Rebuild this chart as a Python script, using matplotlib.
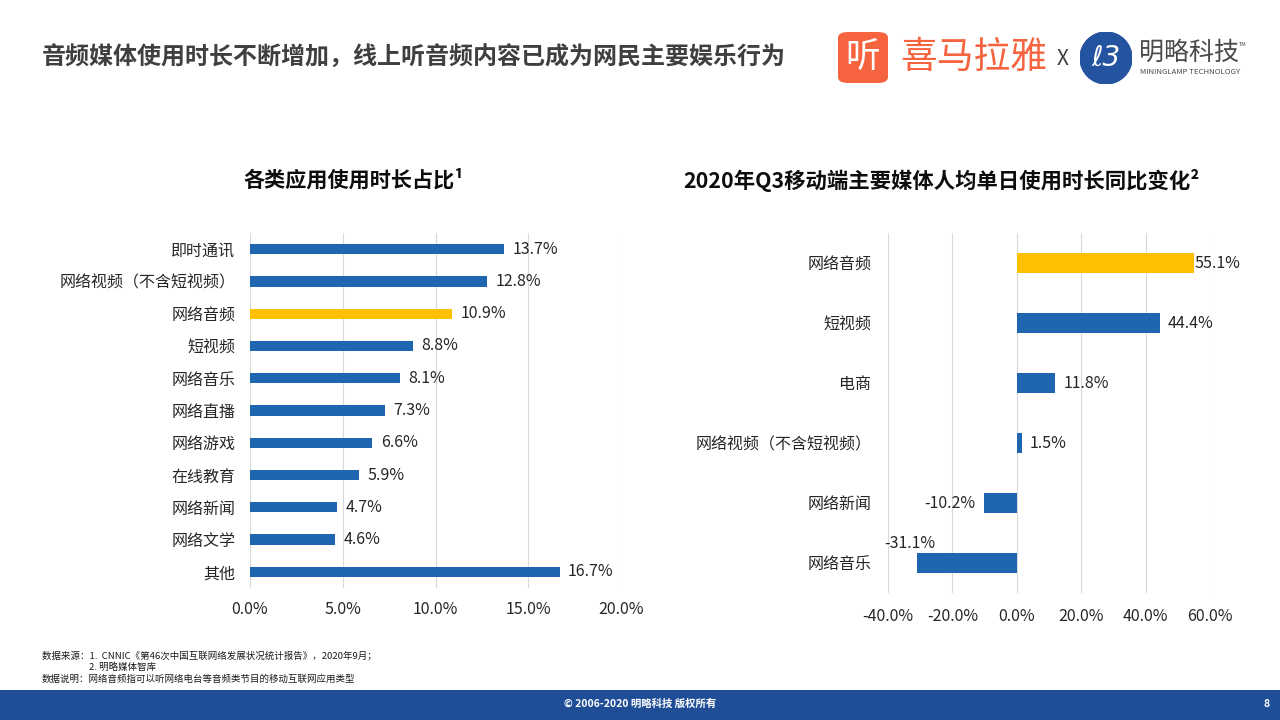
import matplotlib
matplotlib.use("Agg")
import matplotlib.pyplot as plt
from matplotlib.patches import FancyBboxPatch, Circle, Rectangle

plt.rcParams['font.family'] = ['Noto Sans CJK SC', 'DejaVu Sans']

# ---------------- data ----------------
left_categories = ["即时通讯", "网络视频（不含短视频）", "网络音频", "短视频", "网络音乐",
                   "网络直播", "网络游戏", "在线教育", "网络新闻", "网络文学", "其他"]
left_values = [13.7, 12.8, 10.9, 8.8, 8.1, 7.3, 6.6, 5.9, 4.7, 4.6, 16.7]
left_ticks = [0, 5, 10, 15, 20]

right_categories = ["网络音频", "短视频", "电商", "网络视频（不含短视频）", "网络新闻", "网络音乐"]
right_values = [55.1, 44.4, 11.8, 1.5, -10.2, -31.1]
right_ticks = [-40, -20, 0, 20, 40, 60]

highlight = "网络音频"
BLUE = "#1F66B0"
YELLOW = "#FFC000"
GRID = "#D9D9D9"
TXT = "#262626"

W, H = 1280, 720
fig = plt.figure(figsize=(12.8, 7.2), dpi=100)

def fx(px):
    return px / W

def fy(py):
    return 1 - py / H

# ---------------- left chart ----------------
axL = fig.add_axes([fx(250), fy(588), fx(621) - fx(250), fy(233) - fy(588)])
yL = list(range(len(left_categories)))
colsL = [YELLOW if c == highlight else BLUE for c in left_categories]
axL.barh(yL, left_values, height=0.32, color=colsL, zorder=3)
axL.set_ylim(len(left_categories) - 0.5, -0.5)
axL.set_xlim(left_ticks[0], left_ticks[-1])
axL.set_xticks(left_ticks)
axL.set_xticklabels([f"{t:.1f}%" for t in left_ticks], fontsize=11.5, color=TXT)
axL.set_yticks(yL)
axL.set_yticklabels(left_categories, fontsize=11.5, color=TXT)
axL.tick_params(axis='x', length=0, pad=9)
axL.tick_params(axis='y', length=0, pad=10.5)
axL.grid(axis='x', color=GRID, linewidth=0.8, zorder=0)
for s in axL.spines.values():
    s.set_visible(False)
for y, v in zip(yL, left_values):
    axL.annotate(f"{v:.1f}%", (v, y), xytext=(6, 0), textcoords='offset points',
                 ha='left', va='center', fontsize=11.5, color=TXT)

# ---------------- right chart ----------------
axR = fig.add_axes([fx(888), fy(593), fx(1210) - fx(888), fy(233) - fy(593)])
yR = list(range(len(right_categories)))
colsR = [YELLOW if c == highlight else BLUE for c in right_categories]
axR.barh(yR, right_values, height=0.33, color=colsR, zorder=3)
axR.set_ylim(len(right_categories) - 0.5, -0.5)
axR.set_xlim(right_ticks[0], right_ticks[-1])
axR.set_xticks(right_ticks)
axR.set_xticklabels([f"{t:.1f}%" for t in right_ticks], fontsize=11.5, color=TXT)
axR.set_yticks(yR)
axR.set_yticklabels(right_categories, fontsize=11.5, color=TXT)
axR.tick_params(axis='x', length=0, pad=11)
axR.tick_params(axis='y', length=0, pad=12)
axR.grid(axis='x', color=GRID, linewidth=0.8, zorder=0)
for s in axR.spines.values():
    s.set_visible(False)
xmaxR = right_ticks[-1]
for i, (y, v) in enumerate(zip(yR, right_values)):
    if v >= 0:
        off = 6 if v < 0.85 * xmaxR else 0
        axR.annotate(f"{v:.1f}%", (v, y), xytext=(off, 0), textcoords='offset points',
                     ha='left', va='center', fontsize=11.5, color=TXT, zorder=4)
    elif i == len(right_values) - 1:
        axR.annotate(f"{v:.1f}%", (v, y - 0.33), xytext=(-5, 0), textcoords='offset points',
                     ha='center', va='center', fontsize=11.5, color=TXT)
    else:
        axR.annotate(f"{v:.1f}%", (v, y), xytext=(-6, 0), textcoords='offset points',
                     ha='right', va='center', fontsize=11.5, color=TXT)

# ---------------- titles ----------------
fig.text(fx(42), fy(57), "音频媒体使用时长不断增加，线上听音频内容已成为网民主要娱乐行为",
         fontsize=17.3, fontweight='bold', color="#3F3F3F", ha='left', va='center')
fig.text(fx(354), fy(180), "各类应用使用时长占比¹", fontsize=15.2, fontweight='bold',
         color="#0D0D0D", ha='center', va='center')
fig.text(fx(941), fy(180), "2020年Q3移动端主要媒体人均单日使用时长同比变化²", fontsize=15.4,
         fontweight='bold', color="#0D0D0D", ha='center', va='center')

# ---------------- logos ----------------
logo = FancyBboxPatch((fx(838), fy(83)), fx(50), fy(32) - fy(83),
                      boxstyle="round,pad=0,rounding_size=0.008",
                      transform=fig.transFigure, facecolor="#F5643F", edgecolor='none')
fig.patches.append(logo)
fig.text(fx(863), fy(58), "听", fontsize=25, color='white', ha='center', va='center')
fig.text(fx(900), fy(57), "喜马拉雅", fontsize=26.5, color="#F5643F", ha='left', va='center')
fig.text(fx(1063), fy(59), "X", fontsize=15, color="#404040", ha='center', va='center')
axLogo = fig.add_axes([fx(1080), fy(84), fx(52), fy(32) - fy(84)])
axLogo.set_xlim(-1, 1)
axLogo.set_ylim(-1, 1)
axLogo.set_aspect('equal')
axLogo.axis('off')
axLogo.add_patch(Circle((0, 0), 1, color="#2453A0"))
axLogo.text(0, 0, "ℓ3", fontsize=20, color='white', ha='center', va='center',
            style='italic', family='DejaVu Sans')
fig.text(fx(1139), fy(53), "明略科技", fontsize=18, color="#4A4A4A", ha='left', va='center')
fig.text(fx(1140), fy(72), "MININGLAMP TECHNOLOGY", fontsize=5.6, color="#4A4A4A",
         ha='left', va='center')
fig.text(fx(1239), fy(44), "TM", fontsize=4, color="#4A4A4A", ha='left', va='center')

# ---------------- notes ----------------
NOTE = "#1A1A1A"
fig.text(fx(42), fy(656), "数据来源：1.  CNNIC《第46次中国互联网络发展状况统计报告》，2020年9月；",
         fontsize=6.8, color=NOTE, ha='left', va='center')
fig.text(fx(89), fy(667), "2. 明略媒体智库", fontsize=6.8, color=NOTE, ha='left', va='center')
fig.text(fx(42), fy(679), "数据说明：网络音频指可以听网络电台等音频类节目的移动互联网应用类型",
         fontsize=6.8, color=NOTE, ha='left', va='center')

# ---------------- footer ----------------
fig.patches.append(Rectangle((0, 0), 1, fy(690), transform=fig.transFigure,
                             facecolor="#1F4E96", edgecolor='none'))
fig.text(0.5, fy(704), "© 2006-2020 明略科技 版权所有", fontsize=7.5, fontweight='bold',
         color='white', ha='center', va='center')
fig.text(fx(1267), fy(704), "8", fontsize=7.5, fontweight='bold', color='white',
         ha='center', va='center')

fig.savefig("out.png", dpi=100)
